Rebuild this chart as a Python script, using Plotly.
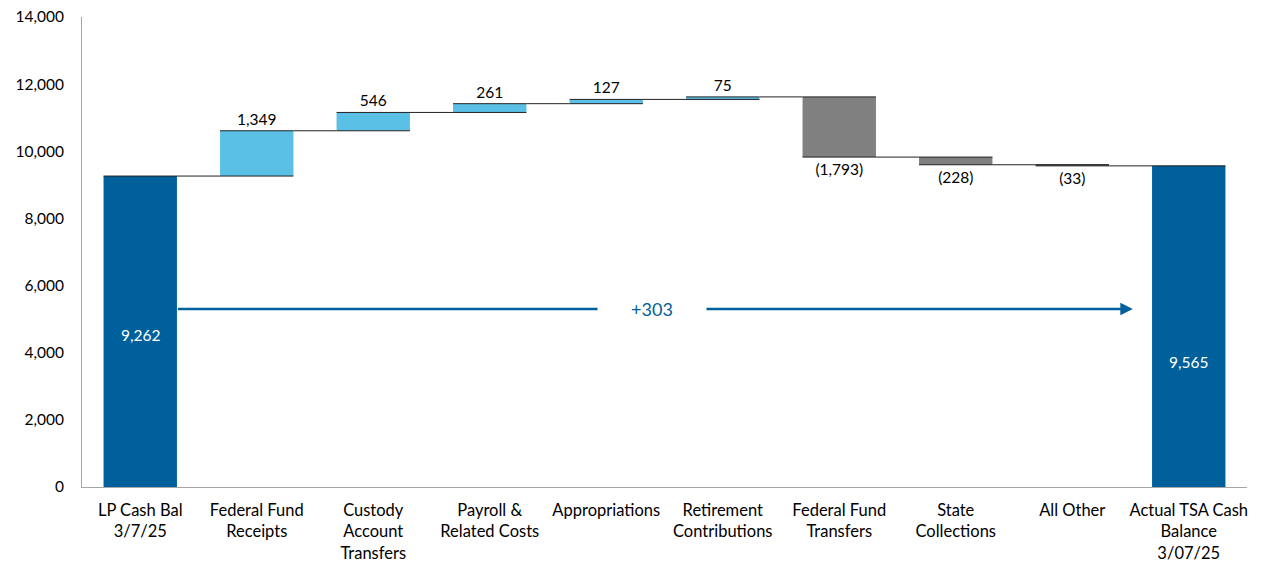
import plotly.graph_objects as go

categories = ["LP Cash Bal<br>3/7/25", "Federal Fund<br>Receipts", "Custody<br>Account<br>Transfers",
              "Payroll &<br>Related Costs", "Appropriations", "Retirement<br>Contributions",
              "Federal Fund<br>Transfers", "State<br>Collections", "All Other",
              "Actual TSA Cash<br>Balance<br>3/07/25"]
values = [9262, 1349, 546, 261, 127, 75, -1793, -228, -33, 9565]
measures = ["absolute"] + ["relative"] * 8 + ["total"]
net_change_label = "+303"

DARK = "#00609C"
LIGHT = "#5BC0E6"
GRAY = "#808080"
FONT = "Lato"

def fmt(v):
    return f"({abs(v):,})" if v < 0 else f"{v:,}"

texts = ["" if m != "relative" else fmt(v) for v, m in zip(values, measures)]
xs = list(range(len(categories)))

fig = go.Figure()
fig.add_trace(go.Waterfall(
    x=xs, y=values, measure=measures,
    text=texts, textposition=["none"] + ["outside"] * 8 + ["none"],
    textfont=dict(family=FONT, size=15.5, color="black"),
    width=0.63,
    increasing=dict(marker=dict(color=LIGHT)),
    decreasing=dict(marker=dict(color=GRAY)),
    totals=dict(marker=dict(color=DARK)),
    connector=dict(mode="spanning", line=dict(color="#222222", width=1)),
    cliponaxis=False,
    hoverinfo="skip",
))

# Labels inside total bars
fig.add_annotation(x=0, y=4530, text=f"{values[0]:,}", showarrow=False,
                   font=dict(family=FONT, size=15.5, color="white"))
fig.add_annotation(x=9, y=3720, text=f"{values[-1]:,}", showarrow=False,
                   font=dict(family=FONT, size=15.5, color="white"))

# Net change arrow
fig.add_annotation(x=8.52, y=5300, ax=0.31, ay=5300, xref="x", yref="y", axref="x", ayref="y",
                   showarrow=True, arrowhead=2, arrowsize=1, arrowwidth=2.5, arrowcolor=DARK, text="")
fig.add_annotation(x=4.39, y=5300, text=net_change_label, showarrow=False, bgcolor="white",
                   width=106, height=24, font=dict(family=FONT, size=18, color=DARK))

fig.update_layout(
    width=1268, height=563,
    margin=dict(l=74, r=29, t=9, b=84, autoexpand=False),
    plot_bgcolor="white", paper_bgcolor="white",
    showlegend=False,
    font=dict(family=FONT, size=15, color="black"),
    xaxis=dict(range=[-0.5, 9.5], tickvals=xs, ticktext=categories, showgrid=False,
               showline=True, linecolor="#A6A6A6", linewidth=1, ticks="", zeroline=False,
               automargin=False, ticklabelstandoff=8, ticklabeloverflow="allow",
               tickfont=dict(family=FONT, size=16.5)),
    yaxis=dict(range=[0, 14000], dtick=2000, tickformat=",", showgrid=False, zeroline=False,
               showline=True, linecolor="#A6A6A6", linewidth=1, ticks="", automargin=False,
               ticklabeloverflow="allow",
               ticklabelstandoff=14, tickfont=dict(family=FONT, size=15.5)),
)

fig.write_html("out.html")
